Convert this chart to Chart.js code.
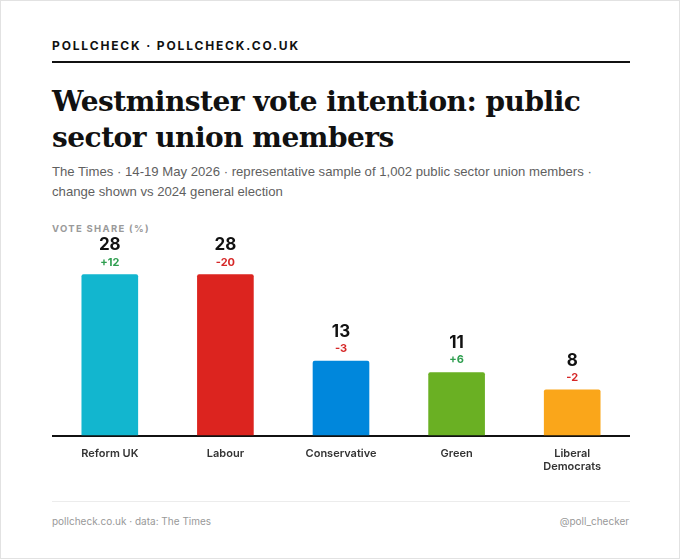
<!DOCTYPE html>
<html>
<head>
<meta charset="utf-8">
<script src="https://cdn.jsdelivr.net/npm/chart.js@4/dist/chart.umd.min.js"></script>
<style>
  html, body { margin: 0; padding: 0; background: #fff; }
  #card { position: relative; width: 678px; height: 557px; border: 1px solid #e2e2e2; background: #fff; font-family: Inter, "Liberation Sans", sans-serif; }
  #brand { position: absolute; left: 51px; top: 37px; font-size: 12px; font-weight: 700; letter-spacing: 1.85px; color: #111; }
  #rule { position: absolute; left: 51px; top: 60px; width: 578px; height: 2px; background: #111; }
  #title { position: absolute; left: 51px; top: 83px; width: 578px; font-family: "DejaVu Serif", serif; font-weight: 700; font-size: 28px; line-height: 36px; color: #111; letter-spacing: -0.5px; }
  #sub { position: absolute; left: 51px; top: 161px; width: 578px; font-family: "Liberation Sans", Arial, sans-serif; font-size: 13.15px; line-height: 20px; color: #5f5f5f; }
  #axisnote { position: absolute; left: 51px; top: 222px; font-size: 9.5px; font-weight: 700; letter-spacing: 1.3px; color: #9a9a9a; }
  #wrap { position: absolute; left: 51px; top: 233px; width: 578px; height: 251px; }
  #foot-line { position: absolute; left: 51px; top: 500px; width: 578px; height: 1px; background: #ececec; }
  #foot-l { position: absolute; left: 51px; top: 514px; font-size: 10px; color: #999; }
  #foot-r { position: absolute; right: 50px; top: 514px; font-size: 10px; color: #999; }
</style>
</head>
<body>
<div id="card">
  <div id="brand">POLLCHECK · POLLCHECK.CO.UK</div>
  <div id="rule"></div>
  <div id="title">Westminster vote intention: public sector union members</div>
  <div id="sub">The Times · 14-19 May 2026 · representative sample of 1,002 public sector union members · change shown vs 2024 general election</div>
  <div id="axisnote">VOTE SHARE (%)</div>
  <div id="wrap"><canvas id="myChart"></canvas></div>
  <div id="foot-line"></div>
  <div id="foot-l">pollcheck.co.uk · data: The Times</div>
  <div id="foot-r">@poll_checker</div>
</div>
<script>
var parties = [['Reform UK'], ['Labour'], ['Conservative'], ['Green'], ['Liberal', 'Democrats']];
var voteShare = [28, 28, 13, 11, 8];
var change = [12, -20, -3, 6, -2];
var partyColours = ['#12B6CF', '#DC241F', '#0087DC', '#6AB023', '#FAA61A'];

var Poll = function () {

    // value + change written above each bar
    var barLabels = {
        id: 'barLabels',
        afterDatasetsDraw: function (chart) {
            var ctx = chart.ctx;
            var meta = chart.getDatasetMeta(0);
            ctx.save();
            ctx.textAlign = 'center';
            ctx.textBaseline = 'middle';
            meta.data.forEach(function (bar, i) {
                ctx.fillStyle = '#111';
                ctx.font = '700 17px Inter, "Liberation Sans", sans-serif';
                ctx.fillText(String(voteShare[i]), bar.x, bar.y - 29);
                var c = change[i];
                ctx.fillStyle = c >= 0 ? '#2E9E4F' : '#D62828';
                ctx.font = '700 11px Inter, "Liberation Sans", sans-serif';
                ctx.fillText((c > 0 ? '+' : '') + c, bar.x, bar.y - 12);
            });
            ctx.restore();
        }
    };

    var config = {
        type: 'bar',
        data: {
            labels: parties,
            datasets: [{
                data: voteShare,
                backgroundColor: partyColours,
                borderWidth: 0,
                borderRadius: { topLeft: 2, topRight: 2 },
                categoryPercentage: 1,
                barPercentage: 0.49
            }]
        },
        options: {
            responsive: true,
            maintainAspectRatio: false,
            animation: false,
            layout: { padding: 0 },
            plugins: {
                legend: { display: false },
                tooltip: { enabled: false }
            },
            scales: {
                y: {
                    display: false,
                    min: 0,
                    max: 35
                },
                x: {
                    grid: { display: false, drawTicks: false },
                    border: { display: true, color: '#111', width: 2 },
                    ticks: {
                        padding: 11,
                        color: '#333',
                        font: { family: 'Inter, "Liberation Sans", sans-serif', size: 11, weight: '600', lineHeight: 1.25 }
                    }
                }
            }
        },
        plugins: [barLabels]
    };

    return {
        init: function () {
            new Chart(document.getElementById('myChart'), config);
        }
    };
}();

window.addEventListener('load', function () {
    Poll.init();
});
</script>
</body>
</html>
